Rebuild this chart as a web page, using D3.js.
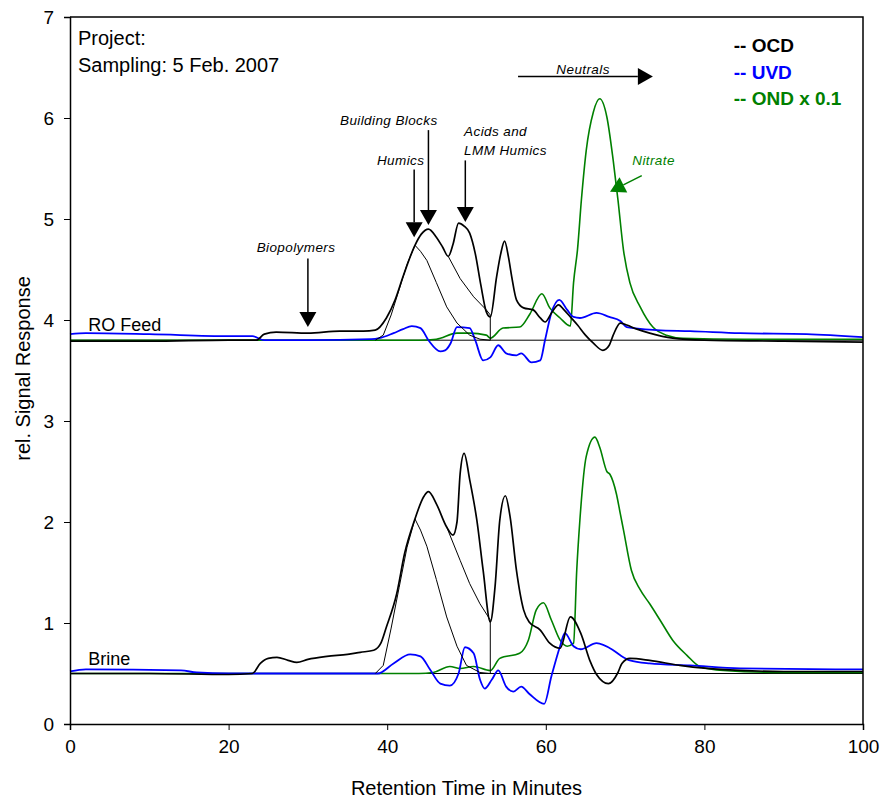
<!DOCTYPE html>
<html>
<head>
<meta charset="utf-8">
<script src="https://cdn.jsdelivr.net/npm/d3@7"></script>
<style>
  body { margin: 0; background: #fff; }
  svg { font-family: "Liberation Sans", Arial, sans-serif; }
</style>
</head>
<body>
<div id="chart"></div>
<script>
// RO Feed (offset baseline 3.8) - [minutes, signal]
const feedOCD = [[0,3.79],[10,3.79],[20,3.8],[23.5,3.8],[24.5,3.86],[26,3.88],[30,3.87],[34,3.89],[37,3.89],[38.5,3.9],[39.9,4.02],[41,4.2],[42,4.43],[43.5,4.74],[44.3,4.85],[45.2,4.9],[46.2,4.82],[47,4.72],[47.7,4.63],[48.3,4.75],[49,4.96],[49.7,4.93],[50.4,4.86],[51.1,4.66],[51.8,4.35],[52.5,4.08],[53,4.03],[53.8,4.43],[54.3,4.65],[54.8,4.78],[55.3,4.62],[55.7,4.43],[56.3,4.2],[57.2,4.12],[58.4,4.1],[59.3,4.02],[59.9,3.98],[60.8,4.08],[61.6,4.15],[62.3,4.1],[63.1,4.03],[64,3.95],[65,3.85],[66,3.77],[67.2,3.7],[68,3.75],[68.5,3.85],[69.4,3.97],[70.2,3.95],[71.5,3.91],[73.1,3.87],[76,3.82],[80,3.8],[90,3.79],[100,3.78]];
const feedUVD = [[0,3.86],[2,3.87],[10,3.86],[20,3.84],[23,3.84],[24.5,3.8],[30,3.8],[38,3.81],[39,3.82],[40.8,3.87],[42,3.91],[43.1,3.94],[44.2,3.92],[45.2,3.8],[46.7,3.69],[47.3,3.7],[48,3.77],[48.8,3.93],[50.4,3.92],[51.1,3.8],[52.1,3.6],[53,3.63],[54,3.75],[55,3.67],[56.3,3.65],[56.9,3.67],[58.2,3.58],[59.3,3.6],[59.9,3.8],[60.7,4.07],[61.7,4.2],[62.7,4.1],[63.5,4.03],[64.3,4.02],[66.4,4.07],[68,4.03],[69.4,3.99],[70.2,3.93],[74,3.9],[78.2,3.89],[84.5,3.87],[92.9,3.86],[100,3.83]];
const feedOND = [[0,3.8],[40,3.8],[44,3.8],[46.2,3.81],[48.8,3.87],[50.4,3.87],[52.5,3.85],[53,3.82],[54.6,3.92],[56.7,3.93],[58,4.06],[59.5,4.26],[60.5,4.12],[61.8,4.02],[63.1,3.94],[63.5,4.37],[64,4.7],[64.5,5.2],[65.1,5.68],[66,6.06],[66.8,6.19],[67.7,6.01],[68.5,5.58],[69.1,5.19],[69.8,4.69],[70.6,4.37],[71.9,4.13],[73.5,3.93],[75.2,3.85],[77.3,3.82],[85,3.81],[100,3.81]];
const feedHumicsFit = [[38.5,3.8],[39.5,3.85],[40.5,4.05],[41.5,4.3],[42.5,4.55],[43.5,4.74],[44.2,4.68],[45,4.59],[46.2,4.37],[47.5,4.13],[48.8,3.97],[50.4,3.85],[51.7,3.81],[53,3.8]];
const feedBBFit = [[47.7,4.63],[49.2,4.41],[50.9,4.23],[52.5,4.1],[53,4.05],[53,3.8]];

// Brine (offset baseline 0.5)
const brineOCD = [[0,0.5],[10,0.5],[20,0.49],[23,0.5],[24,0.6],[25,0.65],[26.1,0.66],[27.5,0.63],[28.6,0.61],[30,0.64],[32.4,0.67],[35,0.69],[36.6,0.71],[38.3,0.73],[39.2,0.8],[39.9,0.96],[41.2,1.29],[42.2,1.69],[43.5,2.03],[44.6,2.25],[45.2,2.3],[46.2,2.18],[47.5,1.95],[48.3,1.87],[48.8,2.0],[49.2,2.48],[49.7,2.68],[50.4,2.42],[51.3,2.02],[52.1,1.52],[53,1.01],[53.6,1.36],[54.2,2.02],[54.9,2.26],[55.5,2.05],[56.3,1.52],[57.2,1.13],[57.9,1.01],[59.3,0.93],[60.5,0.8],[61.8,0.75],[63.1,1.06],[64.4,0.9],[65.6,0.62],[66.4,0.49],[67.9,0.4],[69.1,0.51],[69.6,0.6],[70.6,0.65],[73.1,0.63],[76.9,0.58],[80.3,0.55],[84.5,0.53],[90,0.52],[100,0.52]];
const brineUVD = [[0,0.52],[2,0.54],[14,0.53],[16,0.51],[20,0.5],[38.8,0.5],[40.8,0.6],[42.9,0.69],[44.2,0.67],[45.4,0.54],[46.7,0.4],[47.9,0.38],[49,0.5],[49.8,0.76],[50.9,0.7],[51.7,0.44],[52.3,0.35],[53.2,0.44],[54,0.53],[55,0.37],[55.9,0.32],[56.9,0.37],[57.9,0.3],[59.8,0.2],[60.7,0.47],[61.8,0.77],[62.4,0.9],[63.5,0.77],[64.4,0.74],[66.4,0.8],[68.5,0.73],[69.4,0.68],[70.6,0.63],[73.1,0.6],[78.2,0.58],[84.5,0.55],[100,0.54]];
const brineOND = [[0,0.5],[44,0.5],[45.8,0.51],[47.9,0.57],[49.2,0.55],[50.9,0.57],[53,0.53],[54.2,0.65],[56.7,0.7],[57.8,0.83],[58.8,1.13],[59.7,1.2],[60.7,1.03],[61.8,0.83],[62.7,0.77],[63.5,0.8],[63.9,1.52],[64.3,2.02],[65.1,2.65],[66.2,2.84],[66.8,2.74],[67.7,2.5],[68.1,2.47],[68.9,2.28],[69.4,2.08],[69.8,1.92],[70.8,1.52],[71.9,1.33],[73.1,1.19],[74.4,1.03],[76,0.83],[77.8,0.68],[79.4,0.57],[82.4,0.53],[90,0.51],[100,0.51]];
const brineHumicsFit = [[38.5,0.5],[39.5,0.58],[40.5,0.95],[41.5,1.35],[42.5,1.75],[43.5,2.03],[44.2,1.92],[45,1.76],[46.2,1.43],[47.5,1.06],[48.8,0.77],[50,0.58],[51.7,0.51],[53,0.5]];
const brineBBFit = [[47.5,1.95],[49.2,1.62],[50.4,1.39],[51.7,1.19],[53,1.03],[53,0.5]];

const baselines = [3.8, 0.5];
const xTicks = [0, 20, 40, 60, 80, 100];
const yTicks = [0, 1, 2, 3, 4, 5, 6, 7];

const width = 882, height = 801;
const margin = {top: 17, right: 19, bottom: 77, left: 70};

const svg = d3.select('#chart').append('svg')
    .attr('width', width)
    .attr('height', height);

const x = d3.scaleLinear().domain([0, 100]).range([margin.left, width - margin.right]);
const y = d3.scaleLinear().domain([0, 7]).range([height - margin.bottom, margin.top]);

const line = d3.line().x(d => x(d[0])).y(d => y(d[1])).curve(d3.curveMonotoneX);
const straight = d3.line().x(d => x(d[0])).y(d => y(d[1]));

// baselines
svg.append('g').selectAll('line').data(baselines).join('line')
    .attr('x1', x(0)).attr('x2', x(100))
    .attr('y1', d => y(d)).attr('y2', d => y(d))
    .attr('stroke', '#000').attr('stroke-width', 1);

const traces = [
    {data: feedOND, color: '#008000', w: 1.6},
    {data: brineOND, color: '#008000', w: 1.6},
    {data: feedUVD, color: '#0000ff', w: 1.8},
    {data: brineUVD, color: '#0000ff', w: 1.8},
    {data: feedOCD, color: '#000', w: 1.7},
    {data: brineOCD, color: '#000', w: 1.7}
];

svg.append('g').selectAll('path').data(traces).join('path')
    .attr('d', d => line(d.data))
    .attr('fill', 'none')
    .attr('stroke', d => d.color)
    .attr('stroke-width', d => d.w)
    .attr('stroke-linejoin', 'round');

svg.append('g').selectAll('path').data([feedHumicsFit, feedBBFit, brineHumicsFit, brineBBFit]).join('path')
    .attr('d', d => straight(d))
    .attr('fill', 'none')
    .attr('stroke', '#000')
    .attr('stroke-width', 1);

// axes
const xAxis = svg.append('g')
    .attr('transform', `translate(0,${y(0)})`)
    .call(d3.axisBottom(x).tickValues(xTicks).tickSize(6).tickPadding(10).tickFormat(d3.format('d')));
const yAxis = svg.append('g')
    .attr('transform', `translate(${x(0)},0)`)
    .call(d3.axisLeft(y).tickValues(yTicks).tickSize(6).tickPadding(10).tickFormat(d3.format('d')));

[xAxis, yAxis].forEach(g => {
    g.select('.domain').attr('stroke-width', 1.5);
    g.selectAll('.tick line').attr('stroke-width', 1);
    g.selectAll('.tick text')
        .attr('font-size', 19)
        .attr('font-family', '"Liberation Sans", Arial, sans-serif')
        .attr('fill', '#000');
});
yAxis.selectAll('.tick text').attr('dy', '0.36em');

// frame top/right
svg.append('path')
    .attr('d', `M${x(0)},${y(7)}H${x(100)}V${y(0)}`)
    .attr('fill', 'none').attr('stroke', '#000').attr('stroke-width', 1.5);

svg.append('text')
    .attr('x', x(50)).attr('y', 795)
    .attr('text-anchor', 'middle')
    .attr('font-size', 20)
    .text('Retention Time in Minutes');

svg.append('text')
    .attr('transform', `translate(30,${y(3.5) - 2}) rotate(-90)`)
    .attr('text-anchor', 'middle')
    .attr('font-size', 20)
    .text('rel. Signal Response');

// header text
svg.append('text').attr('x', 78).attr('y', 45).attr('font-size', 20).text('Project:');
svg.append('text').attr('x', 78).attr('y', 72).attr('font-size', 20).text('Sampling: 5 Feb. 2007');

// legend
const legend = [
    {label: '-- OCD', color: '#000', y: 6.655},
    {label: '-- UVD', color: '#0000ff', y: 6.39},
    {label: '-- OND x 0.1', color: '#008000', y: 6.125}
];
svg.append('g').selectAll('text').data(legend).join('text')
    .attr('x', x(83.7)).attr('y', d => y(d.y))
    .attr('font-size', 19).attr('font-weight', 'bold')
    .attr('fill', d => d.color)
    .text(d => d.label);

// trace labels
svg.append('text').attr('x', x(2.3)).attr('y', y(3.89)).attr('font-size', 18).text('RO Feed');
svg.append('text').attr('x', x(2.3)).attr('y', y(0.58)).attr('font-size', 18).text('Brine');

// annotations
const notes = [
    {text: 'Biopolymers', x: 28.5, y: 4.67, anchor: 'middle', color: '#000'},
    {text: 'Humics', x: 41.7, y: 5.53, anchor: 'middle', color: '#000'},
    {text: 'Building Blocks', x: 40.2, y: 5.93, anchor: 'middle', color: '#000'},
    {text: 'Acids and', x: 49.7, y: 5.82, anchor: 'start', color: '#000'},
    {text: 'LMM Humics', x: 49.7, y: 5.63, anchor: 'start', color: '#000'},
    {text: 'Neutrals', x: 64.7, y: 6.44, anchor: 'middle', color: '#000'},
    {text: 'Nitrate', x: 70.9, y: 5.53, anchor: 'start', color: '#008000'}
];
svg.append('g').selectAll('text').data(notes).join('text')
    .attr('x', d => x(d.x)).attr('y', d => y(d.y))
    .attr('text-anchor', d => d.anchor)
    .attr('font-size', 13.5).attr('font-style', 'italic')
    .attr('letter-spacing', 0.4)
    .attr('fill', d => d.color)
    .text(d => d.text);

// arrows: from (x1,y1) to tip (x2,y2)
const arrows = [
    {x1: 30, y1: 4.61, x2: 30, y2: 3.93, color: '#000'},
    {x1: 43.4, y1: 5.49, x2: 43.4, y2: 4.82, color: '#000'},
    {x1: 45.2, y1: 5.88, x2: 45.2, y2: 4.94, color: '#000'},
    {x1: 49.85, y1: 5.58, x2: 49.85, y2: 4.97, color: '#000'},
    {x1: 56.5, y1: 6.41, x2: 73.5, y2: 6.41, color: '#000'},
    {x1: 72.1, y1: 5.43, x2: 68.1, y2: 5.27, color: '#008000'}
];
const ag = svg.append('g');
arrows.forEach(a => {
    const x1 = x(a.x1), y1 = y(a.y1), x2 = x(a.x2), y2 = y(a.y2);
    const ang = Math.atan2(y2 - y1, x2 - x1);
    const len = 15, half = 8.5;
    const bx = x2 - len * Math.cos(ang), by = y2 - len * Math.sin(ang);
    ag.append('line')
        .attr('x1', x1).attr('y1', y1).attr('x2', bx).attr('y2', by)
        .attr('stroke', a.color).attr('stroke-width', 1.5);
    const px = -Math.sin(ang) * half, py = Math.cos(ang) * half;
    ag.append('path')
        .attr('d', `M${x2},${y2}L${bx + px},${by + py}L${bx - px},${by - py}Z`)
        .attr('fill', a.color);
});
</script>
</body>
</html>
